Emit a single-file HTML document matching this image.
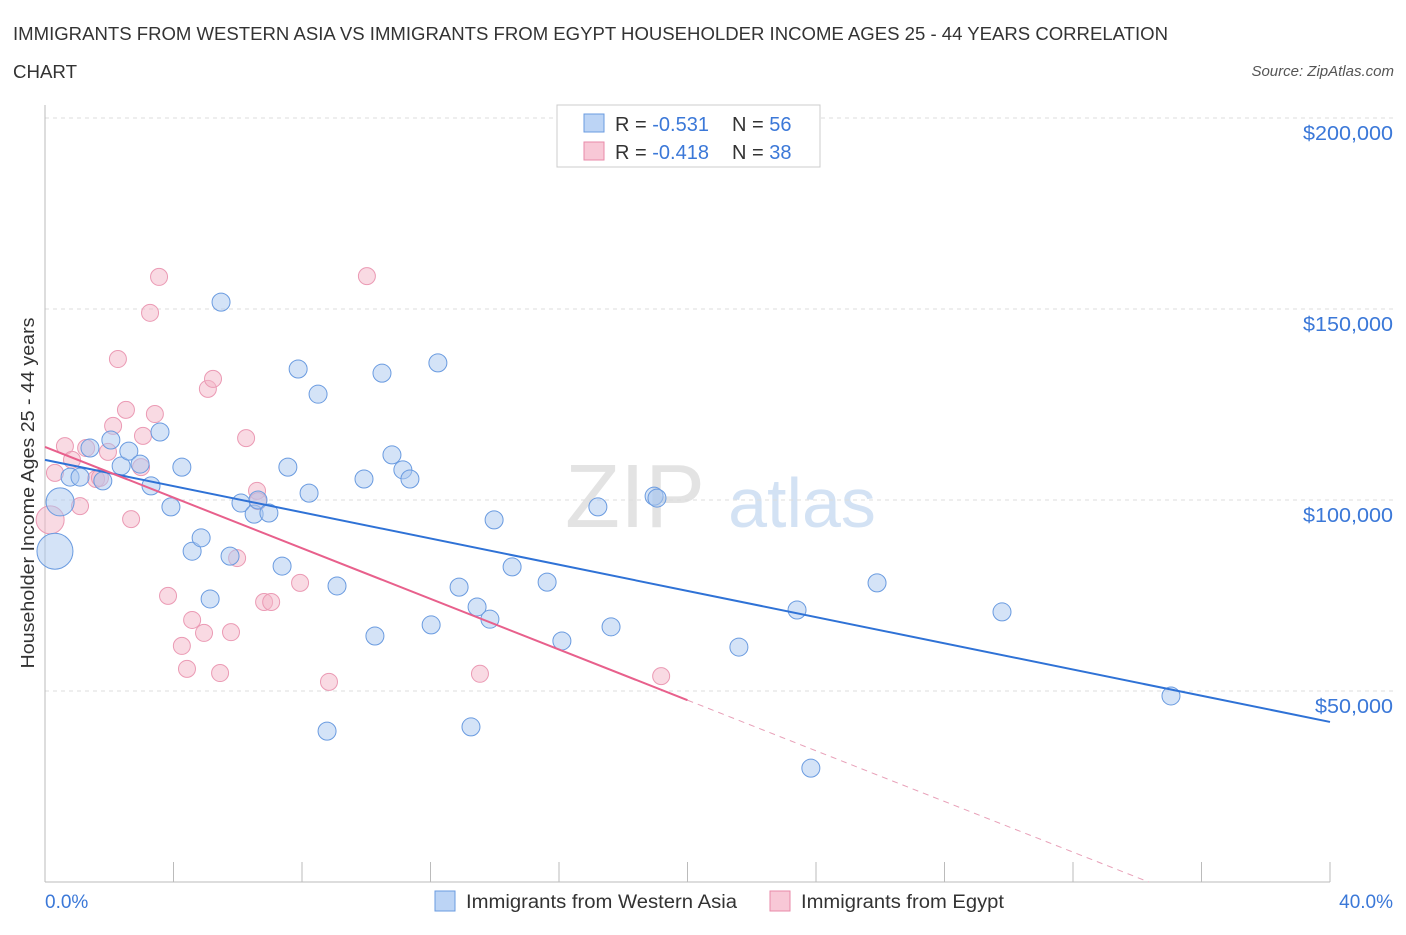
<!DOCTYPE html>
<html><head><meta charset="utf-8">
<style>
body{margin:0;background:#fff;font-family:"Liberation Sans",sans-serif;}
svg text{font-family:"Liberation Sans",sans-serif;}
</style></head>
<body>
<svg id="chart" width="1406" height="930" viewBox="0 0 1406 930">
<text x="13" y="40" font-size="18" fill="#333" textLength="1155" lengthAdjust="spacingAndGlyphs">IMMIGRANTS FROM WESTERN ASIA VS IMMIGRANTS FROM EGYPT HOUSEHOLDER INCOME AGES 25 - 44 YEARS CORRELATION</text>
<text x="13" y="78" font-size="18" fill="#333" textLength="64" lengthAdjust="spacingAndGlyphs">CHART</text>
<text x="1394" y="76" font-size="15" fill="#555" font-style="italic" text-anchor="end">Source: ZipAtlas.com</text>
<g>
<text x="635" y="527" font-size="90" fill="#ddd" font-family="Liberation Serif" text-anchor="middle" opacity="0.8">ZIP</text>
<text x="802" y="527" font-size="70" fill="#c9dcf2" text-anchor="middle" opacity="0.8">atlas</text>
</g>
<g id="grid"></g>
<line x1="45" y1="105" x2="45" y2="882" stroke="#bbb"/>
<line x1="45" y1="882" x2="1330" y2="882" stroke="#bbb"/>
<g id="xticks"></g>
<text x="45" y="908" font-size="19" fill="#3b78d8">0.0%</text>
<text x="1393" y="908" font-size="19" fill="#3b78d8" text-anchor="end">40.0%</text>
<text transform="translate(34,493) rotate(-90)" font-size="18" fill="#333" text-anchor="middle" textLength="351" lengthAdjust="spacingAndGlyphs">Householder Income Ages 25 - 44 years</text>
<g id="pinkpts"></g>
<g id="bluepts"></g>
<g id="lines"></g>
<g>
<rect x="557" y="105" width="263" height="62" fill="#fff" stroke="#ccc"/>
<rect x="584" y="114" width="20" height="18" fill="#bcd4f5" stroke="#6a9be0"/>
<text x="615" y="131" font-size="20" fill="#333">R = <tspan fill="#3b78d8">-0.531</tspan><tspan x="732">N = </tspan><tspan fill="#3b78d8">56</tspan></text>
<rect x="584" y="142" width="20" height="18" fill="#f8c8d6" stroke="#e88aa8"/>
<text x="615" y="159" font-size="20" fill="#333">R = <tspan fill="#3b78d8">-0.418</tspan><tspan x="732">N = </tspan><tspan fill="#3b78d8">38</tspan></text>
</g>
<g>
<rect x="435" y="891" width="20" height="20" fill="#bcd4f5" stroke="#6a9be0"/>
<text x="466" y="908" font-size="19" fill="#333" textLength="271" lengthAdjust="spacingAndGlyphs">Immigrants from Western Asia</text>
</g>
<g>
<rect x="770" y="891" width="20" height="20" fill="#f8c8d6" stroke="#e88aa8"/>
<text x="801" y="908" font-size="19" fill="#333" textLength="203" lengthAdjust="spacingAndGlyphs">Immigrants from Egypt</text>
</g>
</svg>
<script>
const yTicks=[50000,100000,150000,200000];
const yTickLabels=["$50,000","$100,000","$150,000","$200,000"];
const xTicks=[0,4,8,12,16,20,24,28,32,36,40];
const blueX=[0.31,0.47,0.78,1.09,1.40,1.80,2.05,2.37,2.61,2.96,3.30,3.58,3.92,4.26,4.58,4.86,5.14,5.48,5.76,6.10,6.51,6.63,6.97,7.38,7.56,7.88,8.22,8.50,9.09,8.78,9.93,10.27,10.49,10.80,11.14,11.36,12.02,12.23,12.89,13.26,13.45,13.85,13.98,14.54,15.63,16.09,17.21,17.62,18.96,19.05,21.60,23.41,23.84,25.90,29.79,35.05];
const blueY=[86.6,99.5,106.0,106.0,113.6,105.0,115.7,108.9,112.8,109.4,103.7,117.8,98.2,108.6,86.6,90.1,74.1,151.8,85.3,99.2,96.3,100.0,96.6,82.7,108.6,134.3,101.8,127.7,77.5,39.5,105.5,64.4,133.2,111.8,107.9,105.5,67.3,135.9,77.2,40.6,72.0,68.8,94.8,82.5,78.5,63.1,98.2,66.8,101.0,100.5,61.5,71.2,29.8,78.3,70.7,48.7];
const blueR=[18,14,9,9,9,9,9,9,9,9,9,9,9,9,9,9,9,9,9,9,9,9,9,9,9,9,9,9,9,9,9,9,9,9,9,9,9,9,9,9,9,9,9,9,9,9,9,9,9,9,9,9,9,9,9,9];
const pinkX=[0.16,0.31,0.62,0.84,1.28,1.09,1.59,1.71,1.96,2.12,2.27,2.52,2.68,2.99,3.05,3.27,3.42,3.55,3.83,4.26,4.42,4.58,4.95,5.07,5.23,5.45,5.79,5.98,6.26,6.60,6.63,6.82,7.04,7.94,8.84,10.02,13.54,19.18];
const pinkY=[94.8,107.1,114.1,110.5,113.6,98.4,105.5,105.8,112.6,119.4,136.9,123.6,95.0,108.6,116.8,149.0,122.5,158.4,74.9,61.8,55.8,68.6,65.2,129.1,131.7,54.7,65.4,84.8,116.2,102.4,99.7,73.3,73.3,78.3,52.4,158.6,54.5,53.9];
const blueTrend=[110.5,41.9];
const pinkTrend=[113.9,47.6,20];
const NS='http://www.w3.org/2000/svg';
const sx=v=>45+v*32.125;
const sy=v=>882-v*1000/50000*191;
function mk(tag,attrs,parent){const e=document.createElementNS(NS,tag);for(const k in attrs)e.setAttribute(k,attrs[k]);parent.appendChild(e);return e;}
const grid=document.getElementById('grid');
yTicks.forEach((t,i)=>{
 const l=mk('line',{x1:45,x2:1395,y1:sy(t/1000),y2:sy(t/1000),stroke:'#ddd','stroke-dasharray':'4,4'},grid);
 
 
 const tx=mk('text',{x:1393,y:sy(t/1000)+22,'font-size':20,fill:'#3b78d8','text-anchor':'end',textLength:t>=100000?90:78,lengthAdjust:'spacingAndGlyphs'},grid);
 tx.textContent=yTickLabels[i];
 
 
});
const xt=document.getElementById('xticks');
xTicks.forEach(t=>{
 const l=mk('line',{x1:sx(t),x2:sx(t),y1:862,y2:882,stroke:'#bbb'},xt);
 
 
});
const pp=document.getElementById('pinkpts');
pinkX.forEach((x,i)=>{
 const c=mk('circle',{cx:sx(x),cy:sy(pinkY[i]),r:i===0?14:8.5,fill:'#f4b6c8','fill-opacity':0.5,stroke:'#eb9ab4','stroke-width':1},pp);
 
 
});
const bp=document.getElementById('bluepts');
blueX.forEach((x,i)=>{
 const c=mk('circle',{cx:sx(x),cy:sy(blueY[i]),r:blueR[i],fill:'#a9c8f0','fill-opacity':0.5,stroke:'#6a9be0','stroke-width':1},bp);
 
 
});
const lg=document.getElementById('lines');
const bl=mk('line',{x1:sx(0),y1:sy(blueTrend[0]),x2:sx(40),y2:sy(blueTrend[1]),stroke:'#2f72d6','stroke-width':2},lg);


const slope=(pinkTrend[1]-pinkTrend[0])/pinkTrend[2];
const zeroX=-pinkTrend[0]/slope;
const pl=mk('line',{x1:sx(0),y1:sy(pinkTrend[0]),x2:sx(pinkTrend[2]),y2:sy(pinkTrend[1]),stroke:'#e8608c','stroke-width':2},lg);


const pd=mk('line',{x1:sx(pinkTrend[2]),y1:sy(pinkTrend[1]),x2:sx(zeroX),y2:sy(0),stroke:'#e8a0b8','stroke-width':1,'stroke-dasharray':'6,5'},lg);


</script>
</body></html>
